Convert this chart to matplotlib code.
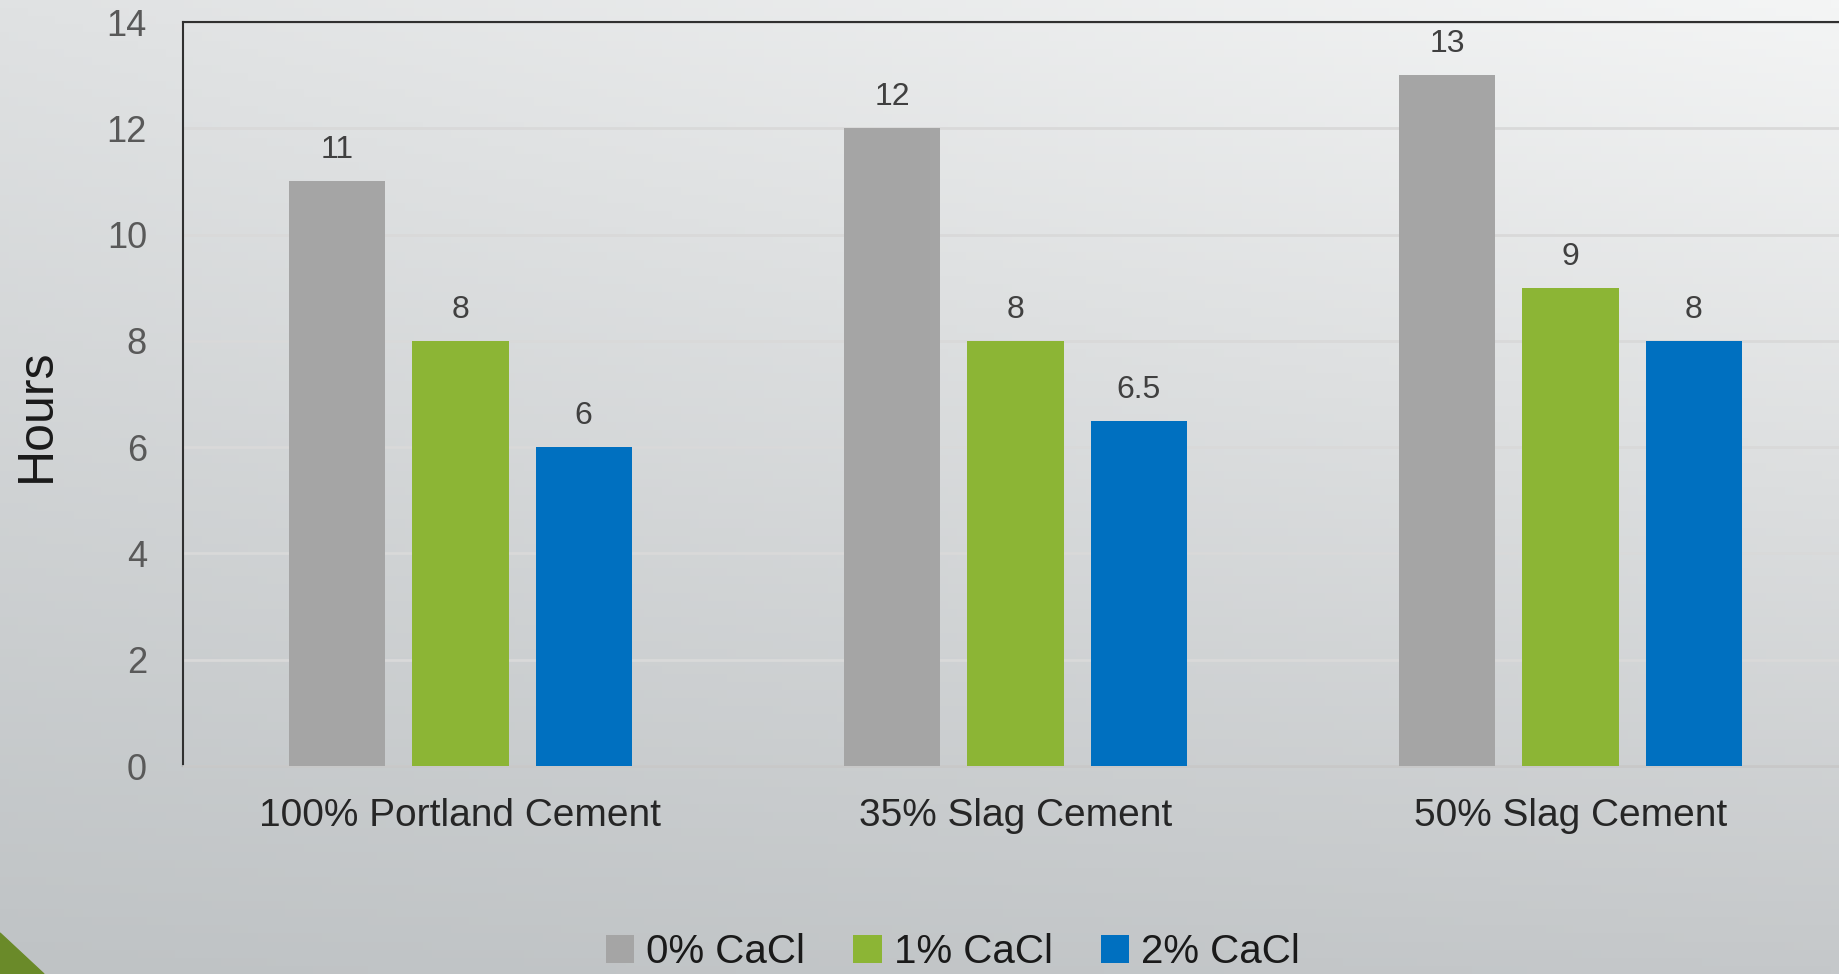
import numpy as np
import matplotlib
matplotlib.use("Agg")
import matplotlib.pyplot as plt
from matplotlib.patches import Polygon

categories = ["100% Portland Cement", "35% Slag Cement", "50% Slag Cement"]
series = ["0% CaCl", "1% CaCl", "2% CaCl"]
cacl_0 = [11, 12, 13]
cacl_1 = [8, 8, 9]
cacl_2 = [6, 6.5, 8]
colors = ["#a5a5a5", "#8cb535", "#0070c0"]

plt.rcParams["font.family"] = ["Liberation Sans", "DejaVu Sans"]

fig = plt.figure(figsize=(18.4, 9.74), dpi=100)

# background gradient (light top right -> darker bottom left)
bg = fig.add_axes([0, 0, 1, 1], zorder=-10)
tl = np.array([0xe0, 0xe2, 0xe3]) / 255
tr = np.array([0xf4, 0xf5, 0xf5]) / 255
bl = np.array([0xbf, 0xc3, 0xc5]) / 255
br = np.array([0xc5, 0xc8, 0xca]) / 255
u = np.linspace(0, 1, 200)[None, :, None]
v = np.linspace(0, 1, 120)[:, None, None]
img = (1 - v) * ((1 - u) * tl + u * tr) + v * ((1 - u) * bl + u * br)
bg.imshow(img, aspect="auto", extent=[0, 1, 0, 1], origin="upper")
bg.add_patch(Polygon([[0, 0], [0, 41 / 974], [44 / 1840, 0]], closed=True,
                     color="#6a8a29"))
bg.set_xlim(0, 1)
bg.set_ylim(0, 1)
bg.axis("off")

# axes: left spine at x=183, top at y=22, bottom at y=766; right edge beyond image
left = 183 / 1840
bottom = 1 - 766 / 974
height = (766 - 22) / 974
width = (1848 - 183) / 1840
ax = fig.add_axes([left, bottom, width, height])
ax.patch.set_alpha(0)

x = np.arange(len(categories))
step = 0.222
bw = 0.173
for i, vals in enumerate([cacl_0, cacl_1, cacl_2]):
    bars = ax.bar(x + (i - 1) * step, vals, bw, color=colors[i], label=series[i],
                  zorder=3)
    for b, val in zip(bars, vals):
        ax.text(b.get_x() + b.get_width() / 2, val + 0.3, f"{val:g}",
                ha="center", va="bottom", fontsize=23, color="#404040")

ax.set_xlim(-0.5, 2.5)
ax.set_ylim(0, 14)
ax.set_yticks(range(0, 15, 2))
ax.grid(axis="y", color="#d9d9d9", linewidth=2, zorder=0)
ax.set_xticks(x)
ax.set_xticklabels(categories, fontsize=28, color="#262626")
ax.tick_params(axis="x", length=0, pad=23)
ax.tick_params(axis="y", length=0, labelsize=26, labelcolor="#595959", pad=26)

for s in ["left", "top"]:
    ax.spines[s].set_color("#303030")
    ax.spines[s].set_linewidth(1.5)
ax.spines["bottom"].set_color("#c8c8c8")
ax.spines["bottom"].set_linewidth(2)
ax.spines["right"].set_visible(False)

fig.text(37 / 1840, 1 - 415 / 974, "Hours", rotation=90, ha="center",
         va="center", fontsize=36, color="#1a1a1a")

fig.legend(loc="center", bbox_to_anchor=(953 / 1840, 1 - 952 / 974), ncol=3,
           frameon=False, fontsize=29, handlelength=0.7, handleheight=0.7,
           handletextpad=0.3, columnspacing=1.2, labelcolor="#1a1a1a")

fig.savefig("out.png", dpi=100)
